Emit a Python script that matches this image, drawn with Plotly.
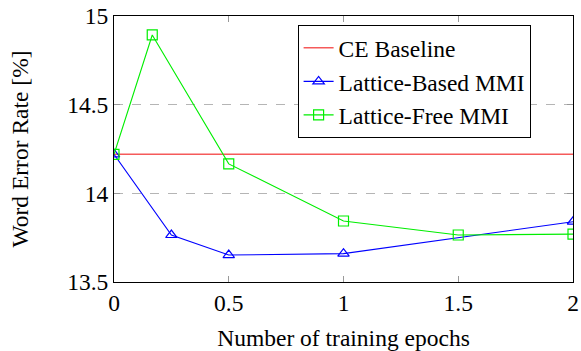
import plotly.graph_objects as go

epochs_ce = [0, 2]
wer_ce = [14.22, 14.22]

epochs_lb = [0, 0.25, 0.5, 1, 2]
wer_lb = [14.22, 13.765, 13.652, 13.66, 13.84]

epochs_lf = [0, 1/6, 0.5, 1, 1.5, 2]
wer_lf = [14.22, 14.893, 14.166, 13.844, 13.765, 13.77]

x_ticks = [0, 0.5, 1, 1.5, 2]
x_ticklabels = ["0", "0.5", "1", "1.5", "2"]
y_ticks = [13.5, 14, 14.5, 15]
y_ticklabels = ["13.5", "14", "14.5", "15"]

FONT = "Liberation Serif"
FS = 23.5
TXT = dict(family=FONT, size=FS, color="black")

fig = go.Figure()
fig.add_trace(go.Scatter(x=epochs_ce, y=wer_ce, mode="lines", name="CE Baseline",
                         line=dict(color="#f55a5a", width=1.4)))
fig.add_trace(go.Scatter(x=epochs_lb, y=wer_lb, mode="lines+markers", name="Lattice-Based MMI",
                         line=dict(color="#0000ff", width=1.1),
                         marker=dict(symbol="triangle-up-open", size=10, color="#0000ff",
                                     line=dict(width=1.2))))
fig.add_trace(go.Scatter(x=epochs_lf, y=wer_lf, mode="lines+markers", name="Lattice-Free MMI",
                         line=dict(color="#00ee00", width=1.1),
                         marker=dict(symbol="square-open", size=10, color="#00ee00",
                                     line=dict(width=1.2))))

fig.update_layout(
    width=581, height=351,
    margin=dict(l=114, r=8, t=16, b=69, pad=0),
    paper_bgcolor="white", plot_bgcolor="white",
    showlegend=True,
    legend=dict(x=0.4, y=0.966, xanchor="left", yanchor="top",
                bordercolor="black", borderwidth=1, bgcolor="white",
                font=TXT, tracegroupgap=0),
)
fig.update_xaxes(range=[0, 2], tickvals=x_ticks, ticktext=x_ticklabels,
                 tickfont=TXT,
                 showgrid=False, zeroline=False, automargin=False,
                 showline=True, linecolor="black", linewidth=1, mirror="ticks",
                 ticks="inside", ticklen=6, tickcolor="#999999",
                 title=dict(text="Number of training epochs", standoff=15, font=TXT))
fig.update_yaxes(range=[13.5, 15], tickvals=y_ticks, ticktext=y_ticklabels,
                 tickfont=TXT,
                 showgrid=True, gridcolor="#b5b5b5", griddash="dash", gridwidth=1,
                 zeroline=False, automargin=False,
                 showline=True, linecolor="black", linewidth=1, mirror="ticks",
                 ticks="inside", ticklen=6, tickcolor="#999999",
                 title=dict(text="Word Error Rate [%]", standoff=31, font=TXT))

fig.write_html("out.html", config={"displayModeBar": False},
               post_script="document.body.style.margin='0';")
